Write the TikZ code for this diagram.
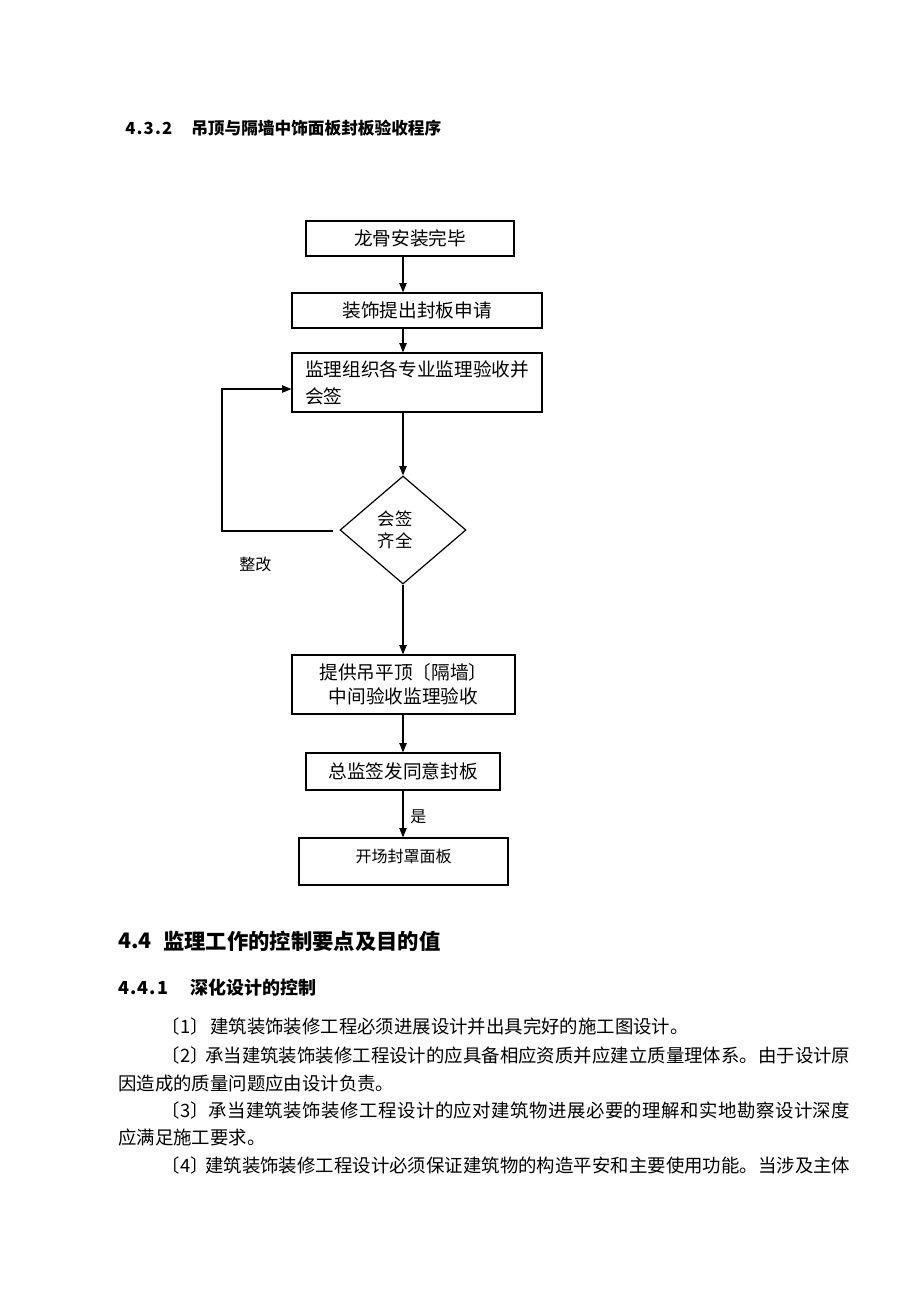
\documentclass[tikz,border=0pt]{standalone}
\usepackage{fontspec}
\setmainfont{Noto Sans CJK SC}
\usetikzlibrary{shapes.geometric,arrows.meta}
\def\spreadi#1{\ifx\relax#1\else#1\hfil\expandafter\spreadi\fi}
\newcommand\spreadtext[1]{\spreadi#1\relax\unskip}
\newcommand\brk[2]{\makebox[#1][s]{\hspace{10pt}〔\hfil #2\hfil〕\hspace{5pt}}}
\begin{document}
\begin{tikzpicture}[x=0.75pt,y=-0.75pt,
  box/.style={draw, line width=0.9pt, inner sep=0pt, font=\fontsize{14}{20}\selectfont},
  arr/.style={line width=0.9pt, -{Triangle[length=7pt,width=5.5pt]}},
  txt/.style={inner sep=0pt, anchor=west},
  para/.style={txt, font=\fontsize{13.8}{16}\selectfont}]
\useasboundingbox[fill=white] (0,0) rectangle (920,1302);

% heading
\node[txt, font=\fontsize{12.5}{14}\selectfont\bfseries] (h1n) at (125,128) {\hbox to 35.25pt{\spreadtext{4.3.2}}};
\node[txt, font=\fontsize{12.5}{14}\selectfont\bfseries] (h1) at (191,128) {吊顶与隔墙中饰面板封板验收程序};

% flowchart
\coordinate (ax) at (403,0);
\node[box, minimum width=156pt, minimum height=26.25pt] (b1) at (410,238.5) {龙骨安装完毕};
\node[box, minimum width=187.5pt, minimum height=26.25pt] (b2) at (417,310.5) {装饰提出封板申请};
\node[box, minimum width=187.5pt, minimum height=44.25pt, text width=168pt, align=left] (b3) at (417,382.5) {监理组织各专业监理验收并\\会签};
\node[draw, diamond, line width=0.9pt, minimum width=94.5pt, minimum height=81pt, inner sep=0pt, align=center, font=\fontsize{13}{17}\selectfont] (d) at (403,530) {\hspace*{-12pt}会签\\\hspace*{-12pt}齐全};
\node[box, minimum width=167.25pt, minimum height=44.25pt, align=center, font=\fontsize{14}{18}\selectfont] (b4) at (403.5,684.5) {提供吊平顶〔隔墙〕\\中间验收监理验收};
\node[box, minimum width=145.5pt, minimum height=27.75pt] (b5) at (403,771.5) {总监签发同意封板};
\node[box, minimum width=156.75pt, minimum height=35.25pt] (b6) at (403.5,861.5) {};
\node[inner sep=0pt, font=\fontsize{12}{14}\selectfont] (t6) at (403.5,856) {开场封罩面板};

\draw[arr] (b1.south -| ax) -- (b2.north -| ax);
\draw[arr] (b2.south -| ax) -- (b3.north -| ax);
\draw[arr] (b3.south -| ax) -- (d.north);
\draw[arr] (d.south) -- (b4.north -| ax);
\draw[arr] (b4.south -| ax) -- (b5.north -| ax);
\draw[arr] (b5.south -| ax) -- node[anchor=west, inner sep=0pt, xshift=5pt, yshift=-2pt, font=\fontsize{12}{14}\selectfont] (yes) {是} (b6.north -| ax);

\coordinate (fbs) at (333,531);
\coordinate (fbc) at (222,531);
\draw[arr] (fbs) -- (fbc) |- ([yshift=-4.9pt]b3.west);
\node[txt, font=\fontsize{12}{14}\selectfont] (zg) at (239,564) {整改};

% section text
\node[txt, font=\fontsize{16}{18}\selectfont\bfseries] (h2n) at (118,941) {4.4};
\node[txt, font=\fontsize{16}{18}\selectfont\bfseries] (h2) at (163,941) {监理工作的控制要点及目的值};
\node[txt, font=\fontsize{13.5}{16}\selectfont\bfseries] (h3n) at (118,988) {\hbox to 37.5pt{\spreadtext{4.4.1}}};
\node[txt, font=\fontsize{13.5}{16}\selectfont\bfseries] (h3) at (190,988) {深化设计的控制};

\node[para] (p1) at (148,1026) {\brk{46.5pt}{1}建筑装饰装修工程必须进展设计并出具完好的施工图设计。};
\node[para] (p2) at (148,1055) {\hbox to 526.5pt{\brk{42.75pt}{2}\spreadtext{承当建筑装饰装修工程设计的应具备相应资质并应建立质量理体系。由于设计原}}};
\node[para] (p3) at (118,1083) {因造成的质量问题应由设计负责。};
\node[para] (p4) at (148,1110) {\hbox to 526.5pt{\brk{45pt}{3}\spreadtext{承当建筑装饰装修工程设计的应对建筑物进展必要的理解和实地勘察设计深度}}};
\node[para] (p5) at (118,1137) {应满足施工要求。};
\node[para] (p6) at (148,1165) {\hbox to 526.5pt{\brk{42.75pt}{4}\spreadtext{建筑装饰装修工程设计必须保证建筑物的构造平安和主要使用功能。当涉及主体}}};
\end{tikzpicture}
\end{document}
